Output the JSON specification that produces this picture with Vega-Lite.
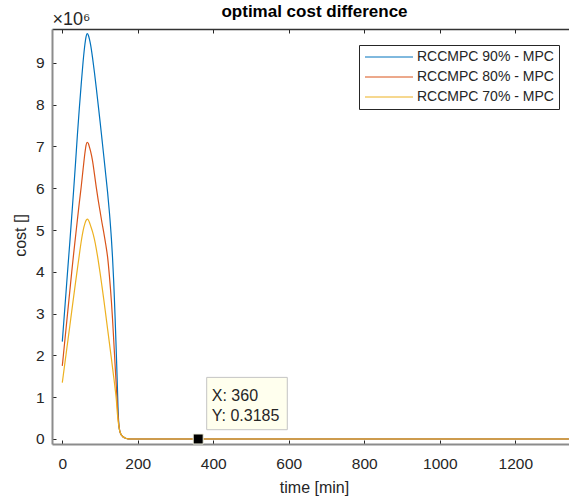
{
  "$schema": "https://vega.github.io/schema/vega-lite/v6.json",
  "width": 517,
  "height": 415,
  "autosize": {"type": "none"},
  "padding": {"left": 52, "top": 29, "right": 0, "bottom": 53},
  "background": "white",
  "config": {
    "font": "Liberation Sans",
    "view": {"stroke": null},
    "axis": {
      "grid": false,
      "labelFont": "Liberation Sans",
      "labelFontSize": 15.5,
      "labelColor": "#262626",
      "titleFont": "Liberation Sans",
      "titleFontSize": 16,
      "titleColor": "#262626",
      "titleFontWeight": "normal",
      "domainColor": "#8c8c8c",
      "domainWidth": 2,
      "tickColor": "#262626",
      "tickSize": -4,
      "tickWidth": 1
    },
    "legend": {
      "orient": "none",
      "legendX": 307,
      "legendY": 16,
      "padding": 5,
      "strokeColor": "#262626",
      "fillColor": "white",
      "labelFont": "Liberation Sans",
      "labelFontSize": 14,
      "labelColor": "#262626",
      "symbolType": "M-4,0L4,0",
      "symbolSize": 144,
      "symbolStrokeWidth": 1,
      "symbolOffset": 18,
      "labelOffset": 21,
      "rowPadding": 6
    }
  },
  "title": {
    "text": "optimal cost difference",
    "font": "Liberation Sans",
    "fontSize": 17,
    "fontWeight": "bold",
    "color": "#000000",
    "anchor": "middle",
    "frame": "group",
    "dx": 4,
    "offset": -11
  },
  "datasets": {
    "curves": [
      {"series": "RCCMPC 90% - MPC", "t": 0, "cost": 2330000},
      {"series": "RCCMPC 90% - MPC", "t": 5, "cost": 2930000},
      {"series": "RCCMPC 90% - MPC", "t": 10, "cost": 3530000},
      {"series": "RCCMPC 90% - MPC", "t": 15, "cost": 4130000},
      {"series": "RCCMPC 90% - MPC", "t": 20, "cost": 4720000},
      {"series": "RCCMPC 90% - MPC", "t": 25, "cost": 5330000},
      {"series": "RCCMPC 90% - MPC", "t": 30, "cost": 5950000},
      {"series": "RCCMPC 90% - MPC", "t": 35, "cost": 6600000},
      {"series": "RCCMPC 90% - MPC", "t": 40, "cost": 7280000},
      {"series": "RCCMPC 90% - MPC", "t": 45, "cost": 7900000},
      {"series": "RCCMPC 90% - MPC", "t": 50, "cost": 8480000},
      {"series": "RCCMPC 90% - MPC", "t": 55, "cost": 9020000},
      {"series": "RCCMPC 90% - MPC", "t": 60, "cost": 9450000},
      {"series": "RCCMPC 90% - MPC", "t": 63, "cost": 9630000},
      {"series": "RCCMPC 90% - MPC", "t": 66, "cost": 9700000},
      {"series": "RCCMPC 90% - MPC", "t": 69, "cost": 9660000},
      {"series": "RCCMPC 90% - MPC", "t": 72, "cost": 9560000},
      {"series": "RCCMPC 90% - MPC", "t": 75, "cost": 9430000},
      {"series": "RCCMPC 90% - MPC", "t": 80, "cost": 9130000},
      {"series": "RCCMPC 90% - MPC", "t": 85, "cost": 8780000},
      {"series": "RCCMPC 90% - MPC", "t": 90, "cost": 8400000},
      {"series": "RCCMPC 90% - MPC", "t": 95, "cost": 8000000},
      {"series": "RCCMPC 90% - MPC", "t": 100, "cost": 7600000},
      {"series": "RCCMPC 90% - MPC", "t": 105, "cost": 7180000},
      {"series": "RCCMPC 90% - MPC", "t": 110, "cost": 6760000},
      {"series": "RCCMPC 90% - MPC", "t": 115, "cost": 6330000},
      {"series": "RCCMPC 90% - MPC", "t": 120, "cost": 5900000},
      {"series": "RCCMPC 90% - MPC", "t": 125, "cost": 5400000},
      {"series": "RCCMPC 90% - MPC", "t": 130, "cost": 4800000},
      {"series": "RCCMPC 90% - MPC", "t": 133, "cost": 4350000},
      {"series": "RCCMPC 90% - MPC", "t": 136, "cost": 3800000},
      {"series": "RCCMPC 90% - MPC", "t": 138, "cost": 3350000},
      {"series": "RCCMPC 90% - MPC", "t": 140, "cost": 2870000},
      {"series": "RCCMPC 90% - MPC", "t": 142, "cost": 2350000},
      {"series": "RCCMPC 90% - MPC", "t": 144, "cost": 1800000},
      {"series": "RCCMPC 90% - MPC", "t": 146, "cost": 1220000},
      {"series": "RCCMPC 90% - MPC", "t": 148, "cost": 650000},
      {"series": "RCCMPC 90% - MPC", "t": 150, "cost": 320000},
      {"series": "RCCMPC 90% - MPC", "t": 152, "cost": 200000},
      {"series": "RCCMPC 90% - MPC", "t": 155, "cost": 120000},
      {"series": "RCCMPC 90% - MPC", "t": 160, "cost": 60000},
      {"series": "RCCMPC 90% - MPC", "t": 165, "cost": 30000},
      {"series": "RCCMPC 90% - MPC", "t": 170, "cost": 12000},
      {"series": "RCCMPC 90% - MPC", "t": 175, "cost": 4000},
      {"series": "RCCMPC 90% - MPC", "t": 180, "cost": 0},
      {"series": "RCCMPC 90% - MPC", "t": 200, "cost": 0},
      {"series": "RCCMPC 90% - MPC", "t": 1342, "cost": 0},
      {"series": "RCCMPC 80% - MPC", "t": 0, "cost": 1750000},
      {"series": "RCCMPC 80% - MPC", "t": 5, "cost": 2200000},
      {"series": "RCCMPC 80% - MPC", "t": 10, "cost": 2650000},
      {"series": "RCCMPC 80% - MPC", "t": 15, "cost": 3100000},
      {"series": "RCCMPC 80% - MPC", "t": 20, "cost": 3550000},
      {"series": "RCCMPC 80% - MPC", "t": 25, "cost": 4000000},
      {"series": "RCCMPC 80% - MPC", "t": 30, "cost": 4430000},
      {"series": "RCCMPC 80% - MPC", "t": 35, "cost": 4840000},
      {"series": "RCCMPC 80% - MPC", "t": 40, "cost": 5250000},
      {"series": "RCCMPC 80% - MPC", "t": 45, "cost": 5650000},
      {"series": "RCCMPC 80% - MPC", "t": 50, "cost": 6030000},
      {"series": "RCCMPC 80% - MPC", "t": 55, "cost": 6450000},
      {"series": "RCCMPC 80% - MPC", "t": 60, "cost": 6850000},
      {"series": "RCCMPC 80% - MPC", "t": 63, "cost": 7030000},
      {"series": "RCCMPC 80% - MPC", "t": 66, "cost": 7100000},
      {"series": "RCCMPC 80% - MPC", "t": 69, "cost": 7070000},
      {"series": "RCCMPC 80% - MPC", "t": 72, "cost": 6980000},
      {"series": "RCCMPC 80% - MPC", "t": 75, "cost": 6880000},
      {"series": "RCCMPC 80% - MPC", "t": 80, "cost": 6660000},
      {"series": "RCCMPC 80% - MPC", "t": 85, "cost": 6350000},
      {"series": "RCCMPC 80% - MPC", "t": 90, "cost": 6020000},
      {"series": "RCCMPC 80% - MPC", "t": 95, "cost": 5720000},
      {"series": "RCCMPC 80% - MPC", "t": 100, "cost": 5450000},
      {"series": "RCCMPC 80% - MPC", "t": 105, "cost": 5180000},
      {"series": "RCCMPC 80% - MPC", "t": 110, "cost": 4930000},
      {"series": "RCCMPC 80% - MPC", "t": 115, "cost": 4660000},
      {"series": "RCCMPC 80% - MPC", "t": 120, "cost": 4350000},
      {"series": "RCCMPC 80% - MPC", "t": 125, "cost": 3880000},
      {"series": "RCCMPC 80% - MPC", "t": 130, "cost": 3300000},
      {"series": "RCCMPC 80% - MPC", "t": 133, "cost": 2880000},
      {"series": "RCCMPC 80% - MPC", "t": 136, "cost": 2400000},
      {"series": "RCCMPC 80% - MPC", "t": 140, "cost": 1750000},
      {"series": "RCCMPC 80% - MPC", "t": 143, "cost": 1270000},
      {"series": "RCCMPC 80% - MPC", "t": 146, "cost": 780000},
      {"series": "RCCMPC 80% - MPC", "t": 148, "cost": 500000},
      {"series": "RCCMPC 80% - MPC", "t": 150, "cost": 320000},
      {"series": "RCCMPC 80% - MPC", "t": 152, "cost": 200000},
      {"series": "RCCMPC 80% - MPC", "t": 155, "cost": 120000},
      {"series": "RCCMPC 80% - MPC", "t": 160, "cost": 60000},
      {"series": "RCCMPC 80% - MPC", "t": 165, "cost": 30000},
      {"series": "RCCMPC 80% - MPC", "t": 170, "cost": 12000},
      {"series": "RCCMPC 80% - MPC", "t": 175, "cost": 4000},
      {"series": "RCCMPC 80% - MPC", "t": 180, "cost": 0},
      {"series": "RCCMPC 80% - MPC", "t": 200, "cost": 0},
      {"series": "RCCMPC 80% - MPC", "t": 1342, "cost": 0},
      {"series": "RCCMPC 70% - MPC", "t": 0, "cost": 1350000},
      {"series": "RCCMPC 70% - MPC", "t": 5, "cost": 1690000},
      {"series": "RCCMPC 70% - MPC", "t": 10, "cost": 2030000},
      {"series": "RCCMPC 70% - MPC", "t": 15, "cost": 2370000},
      {"series": "RCCMPC 70% - MPC", "t": 20, "cost": 2710000},
      {"series": "RCCMPC 70% - MPC", "t": 25, "cost": 3060000},
      {"series": "RCCMPC 70% - MPC", "t": 30, "cost": 3400000},
      {"series": "RCCMPC 70% - MPC", "t": 35, "cost": 3740000},
      {"series": "RCCMPC 70% - MPC", "t": 40, "cost": 4070000},
      {"series": "RCCMPC 70% - MPC", "t": 45, "cost": 4400000},
      {"series": "RCCMPC 70% - MPC", "t": 50, "cost": 4720000},
      {"series": "RCCMPC 70% - MPC", "t": 55, "cost": 4980000},
      {"series": "RCCMPC 70% - MPC", "t": 60, "cost": 5160000},
      {"series": "RCCMPC 70% - MPC", "t": 63, "cost": 5230000},
      {"series": "RCCMPC 70% - MPC", "t": 66, "cost": 5260000},
      {"series": "RCCMPC 70% - MPC", "t": 69, "cost": 5240000},
      {"series": "RCCMPC 70% - MPC", "t": 72, "cost": 5180000},
      {"series": "RCCMPC 70% - MPC", "t": 75, "cost": 5100000},
      {"series": "RCCMPC 70% - MPC", "t": 80, "cost": 4960000},
      {"series": "RCCMPC 70% - MPC", "t": 85, "cost": 4780000},
      {"series": "RCCMPC 70% - MPC", "t": 90, "cost": 4550000},
      {"series": "RCCMPC 70% - MPC", "t": 95, "cost": 4280000},
      {"series": "RCCMPC 70% - MPC", "t": 100, "cost": 3980000},
      {"series": "RCCMPC 70% - MPC", "t": 105, "cost": 3660000},
      {"series": "RCCMPC 70% - MPC", "t": 110, "cost": 3330000},
      {"series": "RCCMPC 70% - MPC", "t": 115, "cost": 2980000},
      {"series": "RCCMPC 70% - MPC", "t": 120, "cost": 2630000},
      {"series": "RCCMPC 70% - MPC", "t": 125, "cost": 2280000},
      {"series": "RCCMPC 70% - MPC", "t": 130, "cost": 1930000},
      {"series": "RCCMPC 70% - MPC", "t": 135, "cost": 1570000},
      {"series": "RCCMPC 70% - MPC", "t": 140, "cost": 1200000},
      {"series": "RCCMPC 70% - MPC", "t": 143, "cost": 950000},
      {"series": "RCCMPC 70% - MPC", "t": 146, "cost": 600000},
      {"series": "RCCMPC 70% - MPC", "t": 148, "cost": 420000},
      {"series": "RCCMPC 70% - MPC", "t": 150, "cost": 300000},
      {"series": "RCCMPC 70% - MPC", "t": 152, "cost": 200000},
      {"series": "RCCMPC 70% - MPC", "t": 155, "cost": 120000},
      {"series": "RCCMPC 70% - MPC", "t": 160, "cost": 60000},
      {"series": "RCCMPC 70% - MPC", "t": 165, "cost": 30000},
      {"series": "RCCMPC 70% - MPC", "t": 170, "cost": 12000},
      {"series": "RCCMPC 70% - MPC", "t": 175, "cost": 4000},
      {"series": "RCCMPC 70% - MPC", "t": 180, "cost": 0},
      {"series": "RCCMPC 70% - MPC", "t": 200, "cost": 0},
      {"series": "RCCMPC 70% - MPC", "t": 1342, "cost": 0}
    ],
    "tip": [{"t": 360, "cost": 0.3185}]
  },
  "layer": [
    {
      "data": {"name": "curves"},
      "mark": {"type": "line", "strokeWidth": 1.2, "interpolate": "monotone"},
      "encoding": {
        "x": {
          "field": "t", "type": "quantitative",
          "scale": {"domain": [-27.3, 1342.3], "nice": false, "zero": false},
          "axis": {
            "orient": "bottom",
            "values": [0, 200, 400, 600, 800, 1000, 1200],
            "format": "d",
            "labelPadding": 16,
            "title": "time [min]",
            "titleX": 262,
            "titleY": 48,
            "titleBaseline": "alphabetic"
          }
        },
        "y": {
          "field": "cost", "type": "quantitative",
          "scale": {"domain": [-120000, 9810000], "nice": false, "zero": false},
          "axis": {
            "values": [0, 1000000, 2000000, 3000000, 4000000, 5000000, 6000000, 7000000, 8000000, 9000000],
            "labelExpr": "datum.value / 1000000",
            "labelPadding": 12,
            "title": "cost []",
            "titleAngle": -90,
            "titleX": -27,
            "titleY": 206,
            "titleBaseline": "alphabetic",
            "titleAlign": "center"
          }
        },
        "color": {
          "field": "series", "type": "nominal",
          "scale": {
            "domain": ["RCCMPC 90% - MPC", "RCCMPC 80% - MPC", "RCCMPC 70% - MPC"],
            "range": ["#0072BD", "#D95319", "#EDB120"]
          },
          "legend": {"title": null}
        }
      }
    },
    {
      "data": {"values": [{}]},
      "mark": {"type": "rect", "fill": "#FFFFEE", "stroke": "#C4C4C4", "strokeWidth": 1},
      "encoding": {
        "x": {"datum": 382.5, "type": "quantitative", "axis": null},
        "x2": {"datum": 596},
        "y": {"datum": 1474000, "type": "quantitative"},
        "y2": {"datum": 222000}
      }
    },
    {
      "data": {"values": [{}]},
      "mark": {"type": "text", "align": "left", "baseline": "middle", "fontSize": 16, "color": "#262626", "font": "Liberation Sans"},
      "encoding": {
        "x": {"datum": 396, "type": "quantitative", "axis": null},
        "y": {"datum": 1036000, "type": "quantitative"},
        "text": {"value": "X: 360"}
      }
    },
    {
      "data": {"values": [{}]},
      "mark": {"type": "text", "align": "left", "baseline": "middle", "fontSize": 16, "color": "#262626", "font": "Liberation Sans"},
      "encoding": {
        "x": {"datum": 396, "type": "quantitative", "axis": null},
        "y": {"datum": 541000, "type": "quantitative"},
        "text": {"value": "Y: 0.3185"}
      }
    },
    {
      "data": {"name": "tip"},
      "mark": {"type": "point", "shape": "square", "filled": true, "color": "#000000", "size": 100, "stroke": "#F2F2E0", "strokeWidth": 1, "opacity": 1},
      "encoding": {
        "x": {
          "field": "t", "type": "quantitative",
          "axis": {
            "orient": "top",
            "values": [0, 200, 400, 600, 800, 1000, 1200],
            "labels": false,
            "domainColor": "#333333",
            "domainWidth": 1.5,
            "title": "×10⁶",
            "titleFontSize": 18,
            "titleAngle": 0,
            "titleX": 0,
            "titleY": -5,
            "titleAlign": "left",
            "titleBaseline": "alphabetic"
          }
        },
        "y": {"field": "cost", "type": "quantitative"}
      }
    }
  ],
  "resolve": {"axis": {"x": "independent"}}
}
